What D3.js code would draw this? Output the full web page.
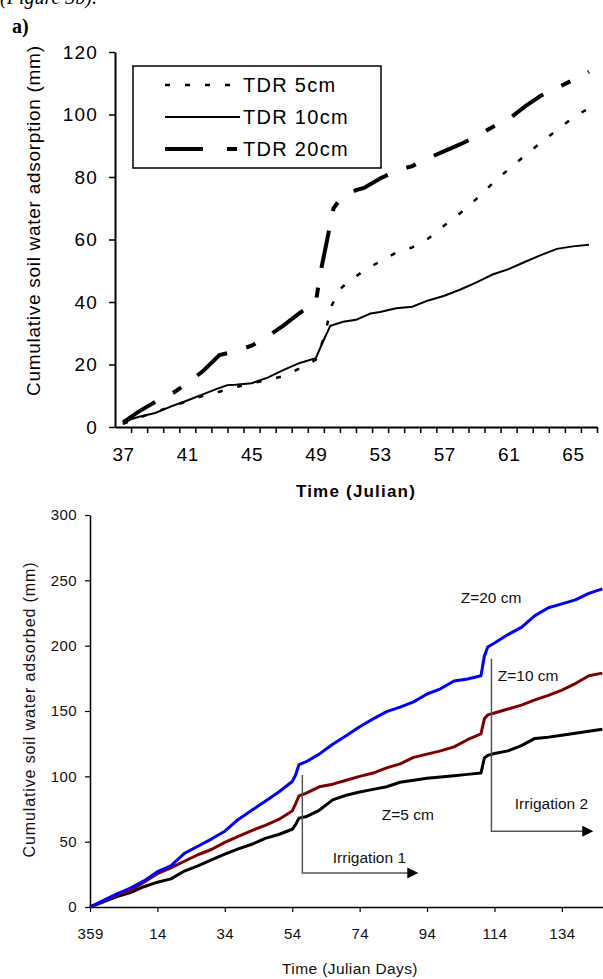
<!DOCTYPE html>
<html>
<head>
<meta charset="utf-8">
<script src="https://cdn.jsdelivr.net/npm/d3@7"></script>
<style>
body { margin: 0; background: #fff; }
svg { display: block; }
</style>
</head>
<body>
<div id="chart"></div>
<script>

// ---- panel a) : TDR cumulative adsorption ----
var days5 = [37, 38, 39, 40, 41, 42, 43, 44, 45, 46, 47, 48, 49, 49.5, 50, 50.5, 51, 52, 53, 54, 55, 56, 57, 58, 59, 60, 61, 62, 63, 64, 65, 66];
var tdr5 = [1, 3, 4.8, 6.5, 8.3, 10, 11.3, 12.7, 14, 15, 16.3, 18.8, 21.5, 28.5, 39, 44, 46.5, 50, 53, 55.8, 57.5, 60.3, 64.5, 68.5, 73, 78, 82.5, 86.8, 91, 95, 99, 102];

var days10 = [37, 37.5, 38, 39, 40, 41, 42, 43, 43.5, 44, 45, 46, 47, 48, 49, 49.4, 49.9, 50.7, 51.5, 52.4, 53, 54, 55, 56, 57, 58, 59, 60, 61, 62, 63, 64, 65, 66];
var tdr10 = [1, 2.5, 3.3, 4.5, 6.6, 8.5, 10.5, 12.5, 13.4, 13.5, 14, 15.8, 18.3, 20.5, 22, 26.8, 32.4, 33.7, 34.3, 36.3, 36.8, 38, 38.5, 40.5, 42, 44, 46.3, 48.8, 50.5, 52.8, 55, 57, 57.8, 58.3];

var days20 = [37, 38, 39, 40, 41, 42, 43, 44, 45, 46, 47, 48, 49, 49.3, 49.7, 50.1, 50.6, 51.5, 52, 53, 54, 55, 56, 57, 58, 59, 60, 61, 62, 63, 64, 65, 66];
var tdr20 = [1.5, 5, 8, 10.5, 14, 18, 23, 24.3, 26, 29, 32.5, 36.5, 40, 49.7, 59.8, 70, 73.5, 75.8, 76.5, 79.5, 82, 83.5, 86, 88.3, 90.5, 93, 96, 98.5, 102.5, 106, 108.5, 111, 113.7];

var topLabelDays = [37, 41, 45, 49, 53, 57, 61, 65];
var topYTicks = [0, 20, 40, 60, 80, 100, 120];
var legendNames = ["TDR 5cm", "TDR 10cm", "TDR 20cm"];

// ---- panel b) : cumulative adsorbed by depth ----
// day index 0 = julian day 359
var dayIdx = [0, 4, 8, 12, 16, 20, 24, 28, 32, 36, 40, 44, 48, 52, 56, 60, 61, 62, 64, 68, 72, 76, 80, 84, 88, 92, 96, 100, 104, 108, 112, 116, 117, 118, 120, 124, 128, 132, 136, 140, 144, 148, 152];
var z20 = [0, 5, 10, 14.5, 20, 27, 31.5, 41, 46.5, 52, 58, 67, 74, 81, 88, 96, 101, 109, 111, 117, 124.5, 131, 138, 144, 149.5, 153, 157, 163, 167, 173, 174.5, 177, 192, 199, 202, 208.5, 214, 223, 229, 232, 235, 240, 243.5];
var z10 = [0, 4.5, 9, 12.5, 19, 25.5, 30, 35, 40, 44, 49.5, 54, 58.5, 62.5, 67, 73.5, 79, 85, 87, 92, 94, 97, 100, 102.5, 106.5, 109.5, 114.5, 117, 119.5, 122.5, 128, 132.5, 144, 147, 148.5, 151.5, 154.5, 158.5, 162, 166, 171, 177, 179];
var z5 = [0, 4, 8, 11, 15.5, 19, 21.5, 27.5, 31.5, 36, 40.5, 44.5, 48, 52.5, 55.5, 59.5, 63, 68, 69, 74, 82, 85.5, 88, 90, 92, 95.5, 97, 98.5, 99.5, 100.5, 101.5, 102.5, 114, 116, 117.5, 119.5, 123.5, 129, 130, 131.5, 133, 134.5, 136];

var botTickIdx = [0, 20, 40, 60, 80, 100, 120, 140];
var botTickLabels = ["359", "14", "34", "54", "74", "94", "114", "134"];
var botYTicks = [0, 50, 100, 150, 200, 250, 300];

// irrigation arrows: day index of the stem, top / bottom value, end of arrow
var irrigations = [
    {name: "Irrigation 1", day: 63, top: 101, bottom: 26, end: 97.4, labelDay: 82.9, labelVal: 38.3},
    {name: "Irrigation 2", day: 119.1, top: 190, bottom: 58, end: 149.3, labelDay: 136.9, labelVal: 79.6}
];
var depthLabels = [
    {name: "Z=20 cm", day: 119, val: 237},
    {name: "Z=10 cm", day: 130, val: 177.5},
    {name: "Z=5 cm", day: 94.3, val: 71}
];

var font = "'Liberation Sans', Arial, sans-serif";
var serif = "'Liberation Serif', 'Times New Roman', serif";

var svg = d3.select("#chart")
    .append("svg")
    .attr("width", 603)
    .attr("height", 979);

// cut-off text line above the figure, and the panel letter
svg.append("text")
    .attr("x", 0).attr("y", 4)
    .style("font-family", serif)
    .style("font-style", "italic")
    .style("font-size", "20px")
    .text("(Figure 3b).");

svg.append("text")
    .attr("x", 12).attr("y", 33)
    .style("font-family", serif)
    .style("font-weight", "bold")
    .style("font-size", "20px")
    .text("a)");

// ================= top chart =================
var x1 = d3.scaleLinear().domain([36.5, 66.5]).range([115, 597]);
var y1 = d3.scaleLinear().domain([0, 120]).range([427, 52]);

var gTop = svg.append("g");

// minor tick marks between the days
var halfDays = d3.range(37.5, 67, 1);
gTop.append("g")
    .attr("transform", "translate(0," + y1(0) + ")")
    .call(d3.axisBottom(x1).tickValues(halfDays).tickSize(6).tickSizeOuter(0).tickFormat(""))
    .call(function(g) {
        g.select(".domain").attr("stroke", "#000").attr("stroke-width", 2);
        g.selectAll(".tick line").attr("stroke", "#000").attr("stroke-width", 1.5);
    });

// day labels
gTop.append("g")
    .attr("transform", "translate(0," + y1(0) + ")")
    .call(d3.axisBottom(x1).tickValues(topLabelDays).tickSize(0).tickPadding(21))
    .call(function(g) {
        g.select(".domain").remove();
        g.selectAll("text")
            .attr("fill", "#000")
            .style("font-family", font)
            .style("font-size", "19px")
            .style("letter-spacing", "0.5px");
    });

gTop.append("g")
    .attr("transform", "translate(" + x1(36.5) + ",0)")
    .call(d3.axisLeft(y1).tickValues(topYTicks).tickSize(6).tickSizeOuter(0).tickPadding(11))
    .call(function(g) {
        g.select(".domain").attr("stroke", "#000").attr("stroke-width", 2);
        g.selectAll(".tick line").attr("stroke", "#000").attr("stroke-width", 1.5);
        g.selectAll("text")
            .attr("fill", "#000")
            .style("font-family", font)
            .style("font-size", "19px")
            .style("letter-spacing", "1.2px");
    });

// axis titles
gTop.append("text")
    .attr("transform", "translate(40,221) rotate(-90)")
    .attr("text-anchor", "middle")
    .attr("textLength", 350)
    .attr("lengthAdjust", "spacing")
    .style("font-family", font)
    .style("font-size", "19px")
    .text("Cumulative soil water adsorption (mm)");

gTop.append("text")
    .attr("x", 356).attr("y", 497)
    .attr("text-anchor", "middle")
    .style("font-family", font)
    .style("font-weight", "bold")
    .style("font-size", "17px")
    .style("letter-spacing", "1.2px")
    .text("Time (Julian)");

var styles = [
    {dash: "5,15", width: 2.5},
    {dash: null, width: 2},
    {dash: "38,20,10,20", width: 4}
];
var topSeries = [
    {days: days5, vals: tdr5},
    {days: days10, vals: tdr10},
    {days: days20, vals: tdr20}
];

var line1 = d3.line()
    .x(function(d) { return x1(d[0]); })
    .y(function(d) { return y1(d[1]); });

topSeries.forEach(function(s, i) {
    var pts = s.days.map(function(d, j) { return [d, s.vals[j]]; });
    gTop.append("path")
        .datum(pts)
        .attr("fill", "none")
        .attr("stroke", "#000")
        .attr("stroke-width", styles[i].width)
        .attr("stroke-dasharray", styles[i].dash)
        .attr("d", line1);
});

// legend
var legend = gTop.append("g");
legend.append("rect")
    .attr("x", 133).attr("y", 66)
    .attr("width", 248).attr("height", 102)
    .attr("fill", "#fff")
    .attr("stroke", "#000")
    .attr("stroke-width", 1.5);

legendNames.forEach(function(name, i) {
    var ly = 85 + i * 32;
    legend.append("line")
        .attr("x1", 165).attr("x2", i == 2 ? 237 : 240)
        .attr("y1", ly).attr("y2", ly)
        .attr("stroke", "#000")
        .attr("stroke-width", styles[i].width)
        .attr("stroke-dasharray", i == 2 ? "38,24,10" : styles[i].dash);
    legend.append("text")
        .attr("x", 243).attr("y", ly + 7)
        .style("font-family", font)
        .style("font-size", "20px")
        .style("letter-spacing", "1.3px")
        .text(name);
});

// ================= bottom chart =================
var x2 = d3.scaleLinear().domain([0, 152.2]).range([90, 603]);
var y2 = d3.scaleLinear().domain([0, 300]).range([907, 515]);

var gBot = svg.append("g");

gBot.append("g")
    .attr("transform", "translate(0," + y2(0) + ")")
    .call(d3.axisBottom(x2).tickValues(botTickIdx).tickSize(5).tickSizeOuter(0).tickPadding(16)
        .tickFormat(function(d, i) { return botTickLabels[i]; }))
    .call(function(g) {
        g.select(".domain").attr("stroke", "#000").attr("stroke-width", 1.5);
        g.selectAll(".tick line").attr("stroke", "#000").attr("stroke-width", 1.2);
        g.selectAll("text")
            .attr("fill", "#111")
            .style("font-family", font)
            .style("font-size", "15px")
            .style("letter-spacing", "0.4px");
    });

gBot.append("g")
    .attr("transform", "translate(" + x2(0) + ",0)")
    .call(d3.axisLeft(y2).tickValues(botYTicks).tickSize(5).tickSizeOuter(0).tickPadding(8))
    .call(function(g) {
        g.select(".domain").attr("stroke", "#000").attr("stroke-width", 1.5);
        g.selectAll(".tick line").attr("stroke", "#000").attr("stroke-width", 1.2);
        g.selectAll("text")
            .attr("fill", "#111")
            .style("font-family", font)
            .style("font-size", "15px")
            .style("letter-spacing", "0.4px");
    });

gBot.append("text")
    .attr("transform", "translate(35,710) rotate(-90)")
    .attr("text-anchor", "middle")
    .attr("textLength", 295)
    .attr("lengthAdjust", "spacing")
    .attr("fill", "#111")
    .style("font-family", font)
    .style("font-size", "16px")
    .text("Cumulative soil water adsorbed (mm)");

gBot.append("text")
    .attr("x", 350).attr("y", 974)
    .attr("text-anchor", "middle")
    .attr("fill", "#111")
    .style("font-family", font)
    .style("font-size", "15.5px")
    .style("letter-spacing", "0.4px")
    .text("Time (Julian Days)");

var line2 = d3.line()
    .x(function(d) { return x2(d[0]); })
    .y(function(d) { return y2(d[1]); });

var botSeries = [
    {vals: z5, color: "#000000"},
    {vals: z10, color: "#800000"},
    {vals: z20, color: "#0000ff"}
];
botSeries.forEach(function(s) {
    var pts = dayIdx.map(function(d, j) { return [d, s.vals[j]]; });
    gBot.append("path")
        .datum(pts)
        .attr("fill", "none")
        .attr("stroke", s.color)
        .attr("stroke-width", 3)
        .attr("stroke-linejoin", "round")
        .attr("d", line2);
});

// irrigation arrows
irrigations.forEach(function(a) {
    var xs = x2(a.day), ye = y2(a.bottom), xe = x2(a.end);
    gBot.append("path")
        .attr("d", "M" + xs + "," + y2(a.top) + "V" + ye + "H" + (xe - 9))
        .attr("fill", "none")
        .attr("stroke", "#555")
        .attr("stroke-width", 1.5);
    gBot.append("path")
        .attr("d", "M" + (xe - 11) + "," + (ye - 5.5) + "L" + xe + "," + ye + "L" + (xe - 11) + "," + (ye + 5.5) + "Z")
        .attr("fill", "#000");
    gBot.append("text")
        .attr("x", x2(a.labelDay)).attr("y", y2(a.labelVal))
        .attr("dy", "0.36em")
        .attr("text-anchor", "middle")
        .attr("fill", "#111")
        .style("font-family", font)
        .style("font-size", "15.5px")
        .text(a.name);
});

depthLabels.forEach(function(l) {
    gBot.append("text")
        .attr("x", x2(l.day)).attr("y", y2(l.val))
        .attr("dy", "0.36em")
        .attr("text-anchor", "middle")
        .attr("fill", "#111")
        .style("font-family", font)
        .style("font-size", "15.5px")
        .text(l.name);
});

</script>
</body>
</html>
